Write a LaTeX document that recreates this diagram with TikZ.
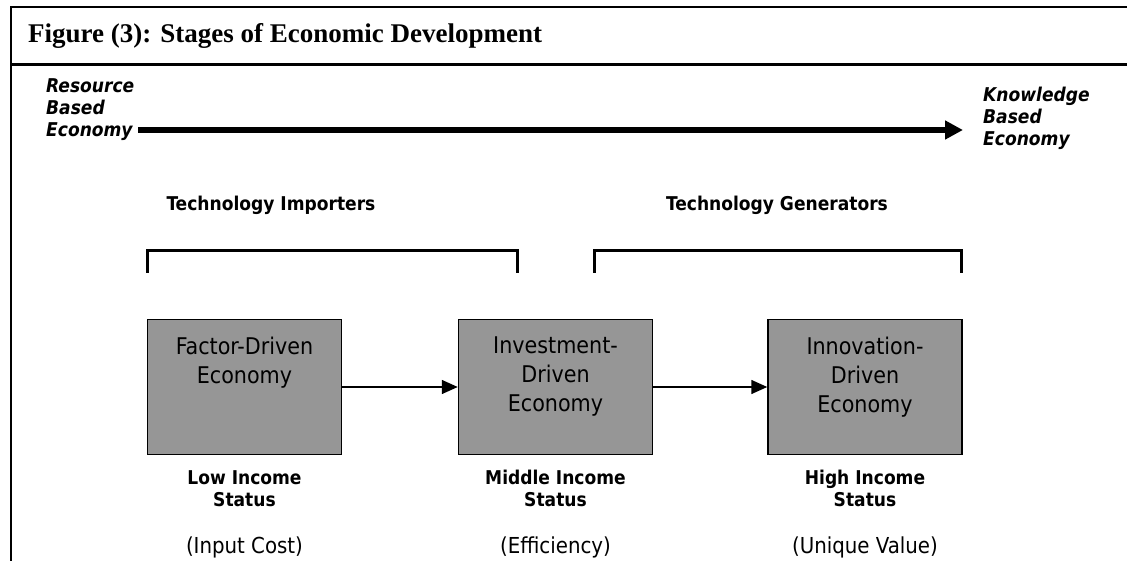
\documentclass[tikz,border=0pt]{standalone}
\usepackage{fontspec}
\setmainfont{Liberation Serif}
\newfontfamily\tahoma{DejaVu Sans Condensed}[
    BoldFont={DejaVu Sans Condensed Bold},
    ItalicFont={DejaVu Sans Condensed Oblique},
    BoldItalicFont={DejaVu Sans Condensed Bold Oblique}]
\usetikzlibrary{arrows.meta}
\definecolor{stagegray}{RGB}{150,150,150}

\begin{document}
\begin{tikzpicture}[x=1pt, y=-1pt,
        stage/.style={draw=black, line width=1.5pt, fill=stagegray,
            minimum width=194pt, minimum height=135pt, inner sep=0pt},
        stagetext/.style={align=center, inner sep=0pt,
            font={\tahoma\fontsize{23}{29}\selectfont}},
        status/.style={align=center, inner sep=0pt,
            font={\tahoma\bfseries\fontsize{19}{22}\selectfont}},
        driver/.style={inner sep=0pt, font={\tahoma\fontsize{22}{26}\selectfont}},
        economy/.style={align=left, inner sep=0pt, anchor=west,
            font={\tahoma\bfseries\itshape\fontsize{19}{22}\selectfont}},
        bracket/.style={line width=3pt, line cap=rect},
        flow/.style={line width=1.5pt, -{Triangle[length=16pt,width=14pt]}}]
    \useasboundingbox (0,0) rectangle (1127,561);

    % frame and heading
    \draw[line width=2pt] (1127,7) -- (11,7) -- (11,562);
    \draw[line width=3pt] (11,65) -- (1127,65);
    \node[anchor=base west, inner sep=0pt, font=\bfseries\fontsize{27}{32}\selectfont]
        (title) at (28,43) {Figure (3): Stages of Economic Development};

    % resource -> knowledge axis
    \node[economy] (resource) at (46,110) {Resource\\Based\\Economy};
    \node[economy] (knowledge) at (983,118) {Knowledge\\Based\\Economy};
    \coordinate (axisstart) at (138,130);
    \coordinate (axisend) at (963,130);
    \draw[line width=6pt, -{Triangle[length=18pt,width=18pt]}] (axisstart) -- (axisend);

    % importers / generators
    \node[status] (importers) at (271,205) {Technology Importers};
    \node[status] (generators) at (777,205) {Technology Generators};
    \foreach \a/\b in {147/517, 594/961} {
        \draw[bracket] (\a,272) -- (\a,251) -- (\b,251) -- (\b,272);
    }

    % the three stages
    \foreach \x/\t/\s/\d [count=\i] in {
            244.5/{Factor-Driven\\Economy}/{Low Income\\Status}/{(Input Cost)},
            555.5/{Investment-\\Driven\\Economy}/{Middle Income\\Status}/{(Efficiency)},
            865/{Innovation-\\Driven\\Economy}/{High Income\\Status}/{(Unique Value)}} {
        \node[stage] (stage\i) at (\x,387) {};
        \node[stagetext, anchor=north] (stagetext\i) at ([yshift=-18pt]stage\i.north) {\t};
        \node[status, anchor=north] (status\i) at ([yshift=-15pt]stage\i.south) {\s};
        \node[driver] (driver\i) at (\x,547) {\d};
    }

    \draw[flow] (stage1) -- (stage2);
    \draw[flow] (stage2) -- (stage3);
\end{tikzpicture}
\end{document}
